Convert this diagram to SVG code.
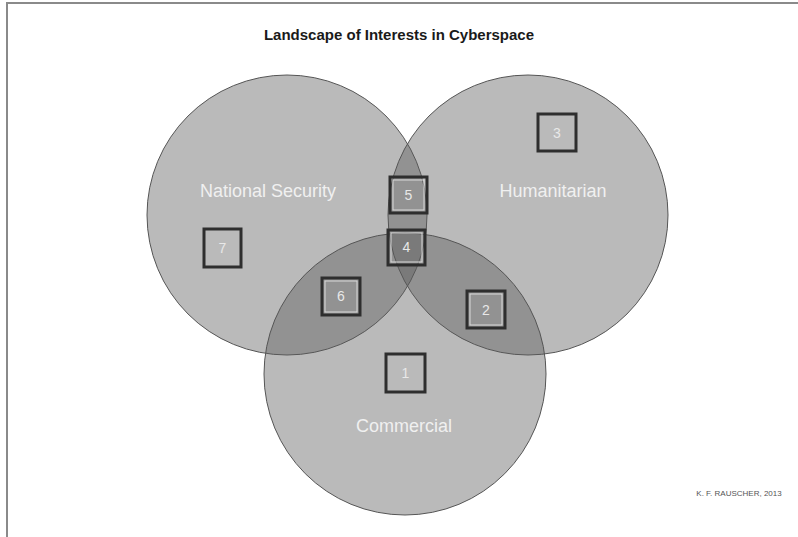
<svg xmlns="http://www.w3.org/2000/svg" width="798" height="537" viewBox="0 0 798 537">
<style>
.circ{fill:#5a5a5a;fill-opacity:0.42;stroke:#555;stroke-width:1}
.lbl{font-family:"Liberation Sans",Arial,sans-serif;font-size:18px;fill:#f0f0f0;text-anchor:middle}
.box{fill:none;stroke:#2e2e2e;stroke-width:3}
.boxin{fill:none;stroke:#d8d8d8;stroke-width:1}
.num{font-family:"Liberation Sans",Arial,sans-serif;font-size:14px;fill:#e8e8e8;text-anchor:middle}
</style>
<rect width="798" height="537" fill="#ffffff"/>
<g id="frame">
<path d="M7,537 V3 H798" fill="none" stroke="#8a8a8a" stroke-width="2"/>
</g>
<text id="title" x="399" y="40" font-family="Liberation Sans,Arial,sans-serif" font-size="15" font-weight="bold" fill="#1a1a1a" text-anchor="middle">Landscape of Interests in Cyberspace</text>
<g id="national-security">
<circle class="circ" cx="287" cy="215" r="140"/>
<text class="lbl" x="268" y="197">National Security</text>
</g>
<g id="humanitarian">
<circle class="circ" cx="528" cy="215" r="140"/>
<text class="lbl" x="553" y="197">Humanitarian</text>
</g>
<g id="commercial">
<circle class="circ" cx="405" cy="374" r="141"/>
<text class="lbl" x="404" y="432">Commercial</text>
</g>
<g id="connectors"></g>
<g id="box7">
<rect class="box" x="204" y="229" width="37" height="38"/>
<text class="num" x="222.5" y="253">7</text>
</g>
<g id="box3">
<rect class="box" x="538" y="114" width="38" height="37"/>
<text class="num" x="557" y="138">3</text>
</g>
<g id="box5">
<rect class="box" x="390" y="177" width="37" height="36"/>
<rect class="boxin" x="393" y="180" width="31" height="30"/>
<text class="num" x="408.5" y="200">5</text>
</g>
<g id="box4">
<rect class="box" x="388" y="230" width="37" height="35"/>
<rect class="boxin" x="391" y="233" width="31" height="29"/>
<text class="num" x="406.5" y="252">4</text>
</g>
<g id="box6">
<rect class="box" x="322" y="278" width="38" height="37"/>
<rect class="boxin" x="325" y="281" width="32" height="31"/>
<text class="num" x="341" y="301">6</text>
</g>
<g id="box2">
<rect class="box" x="467" y="291" width="38" height="37"/>
<rect class="boxin" x="470" y="294" width="32" height="31"/>
<text class="num" x="486" y="315">2</text>
</g>
<g id="box1">
<rect class="box" x="386" y="354" width="39" height="38"/>
<text class="num" x="405.5" y="378">1</text>
</g>
<text id="credit" x="739" y="496" font-family="Liberation Sans,Arial,sans-serif" font-size="8" fill="#555" text-anchor="middle">K. F. RAUSCHER, 2013</text>
</svg>
